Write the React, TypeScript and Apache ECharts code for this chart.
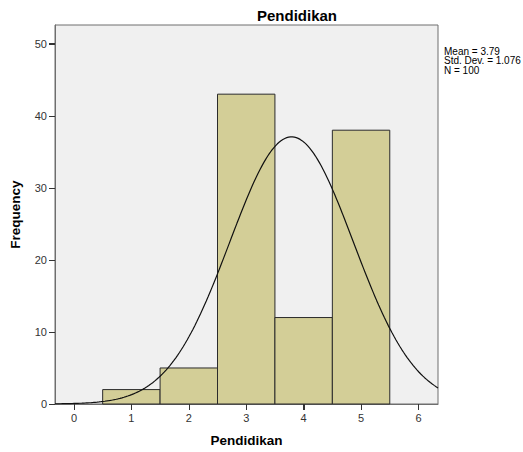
import React, { useEffect, useRef } from "react";
import * as echarts from "echarts";

const binCenters = [1, 2, 3, 4, 5];
const frequencies = [2, 5, 43, 12, 38];
const xTickValues = [0, 1, 2, 3, 4, 5, 6];
const yTickValues = [0, 10, 20, 30, 40, 50];
const statLines = ["Mean = 3.79", "Std. Dev. = 1.076", "N = 100"];
const mean = 3.79;
const stdDev = 1.076;
const n = 100;
const binWidth = 1;

export default function App() {
  const ref = useRef<HTMLDivElement>(null);
  useEffect(() => {
    document.body.style.margin = "0";
    const chart = echarts.init(ref.current!, null, { renderer: "svg" });
    const xMin = -0.33;
    const xMax = 6.34;
    const yMin = 0;
    const yMax = 52.6;
    // Normal curve defined by the reported mean / SD / N
    const curve: number[][] = [];
    const steps = 200;
    for (let i = 0; i <= steps; i++) {
      const x = xMin + ((xMax - xMin) * i) / steps;
      const z = (x - mean) / stdDev;
      const y = (n * binWidth) / (stdDev * Math.sqrt(2 * Math.PI)) * Math.exp(-0.5 * z * z);
      curve.push([x, y]);
    }
    const font = "'Liberation Sans', Arial, sans-serif";
    const tickColor = "#333";
    const statGraphics = statLines.map((t, i) => ({
      type: "text",
      left: 444,
      top: 46 + i * 9.5,
      style: { text: t, fontSize: 10, fill: "#000", fontFamily: font },
    }));
    chart.setOption({
      animation: false,
      textStyle: { fontFamily: font },
      title: {
        text: "Pendidikan",
        left: 292,
        top: 3,
        textAlign: "center",
        textStyle: { fontSize: 15, fontWeight: "bold", color: "#000", fontFamily: font },
      },
      grid: {
        left: 53,
        top: 25,
        width: 385,
        height: 382,
        show: true,
        backgroundColor: "#f0f0f0",
        borderColor: "#6e6e6e",
        borderWidth: 1,
      },
      xAxis: {
        type: "value",
        min: xMin,
        max: xMax,
        name: "Pendidikan",
        nameLocation: "middle",
        nameGap: 29,
        nameTextStyle: { fontSize: 13.5, fontWeight: "bold", color: "#000", fontFamily: font },
        axisLine: { show: true, onZero: false, lineStyle: { color: "#6e6e6e", width: 1 } },
        splitLine: { show: false },
        axisTick: { show: true, length: 6, lineStyle: { color: tickColor, width: 1 }, customValues: xTickValues },
        axisLabel: { color: "#333", fontSize: 11, margin: 8, customValues: xTickValues, fontFamily: font },
      },
      yAxis: {
        type: "value",
        min: yMin,
        max: yMax,
        name: "Frequency",
        nameLocation: "middle",
        nameGap: 33,
        nameTextStyle: { fontSize: 13.5, fontWeight: "bold", color: "#000", fontFamily: font },
        axisLine: { show: true, onZero: false, lineStyle: { color: "#6e6e6e", width: 1 } },
        splitLine: { show: false },
        axisTick: { show: true, length: 6, lineStyle: { color: tickColor, width: 1 }, customValues: yTickValues },
        axisLabel: { color: "#333", fontSize: 11, margin: 8, customValues: yTickValues, fontFamily: font },
      },
      graphic: statGraphics,
      series: [
        {
          type: "custom",
          data: binCenters.map((c, i) => [c, frequencies[i]]),
          renderItem: (params: any, api: any) => {
            const c = api.value(0);
            const v = api.value(1);
            const p0 = api.coord([c - binWidth / 2, v]);
            const p1 = api.coord([c + binWidth / 2, 0]);
            return {
              type: "rect",
              shape: { x: p0[0], y: p0[1], width: p1[0] - p0[0], height: p1[1] - p0[1] },
              style: { fill: "#d3ce97", stroke: "#2b2b2b", lineWidth: 1 },
            };
          },
          z: 2,
        },
        {
          type: "line",
          data: curve,
          showSymbol: false,
          smooth: false,
          lineStyle: { color: "#111", width: 1.2 },
          z: 3,
          clip: true,
        },
      ],
    });
    // Tick marks as thin filled rects, positioned through the chart's own scales
    const tickGraphics: any[] = [];
    xTickValues.forEach((v) => {
      const p = chart.convertToPixel({ gridIndex: 0 }, [v, yMin]) as number[];
      tickGraphics.push({
        type: "rect",
        z: 100,
        shape: { x: Math.round(p[0]), y: Math.round(p[1]), width: 1, height: 6 },
        style: { fill: tickColor },
      });
    });
    yTickValues.forEach((v) => {
      const p = chart.convertToPixel({ gridIndex: 0 }, [xMin, v]) as number[];
      tickGraphics.push({
        type: "rect",
        z: 100,
        shape: { x: Math.round(p[0]) - 6, y: Math.round(p[1]), width: 6, height: 1 },
        style: { fill: tickColor },
      });
    });
    chart.setOption({ graphic: [...statGraphics, ...tickGraphics] }, { replaceMerge: ["graphic"] });
    return () => chart.dispose();
  }, []);
  return <div ref={ref} style={{ width: 523, height: 452 }} />;
}
